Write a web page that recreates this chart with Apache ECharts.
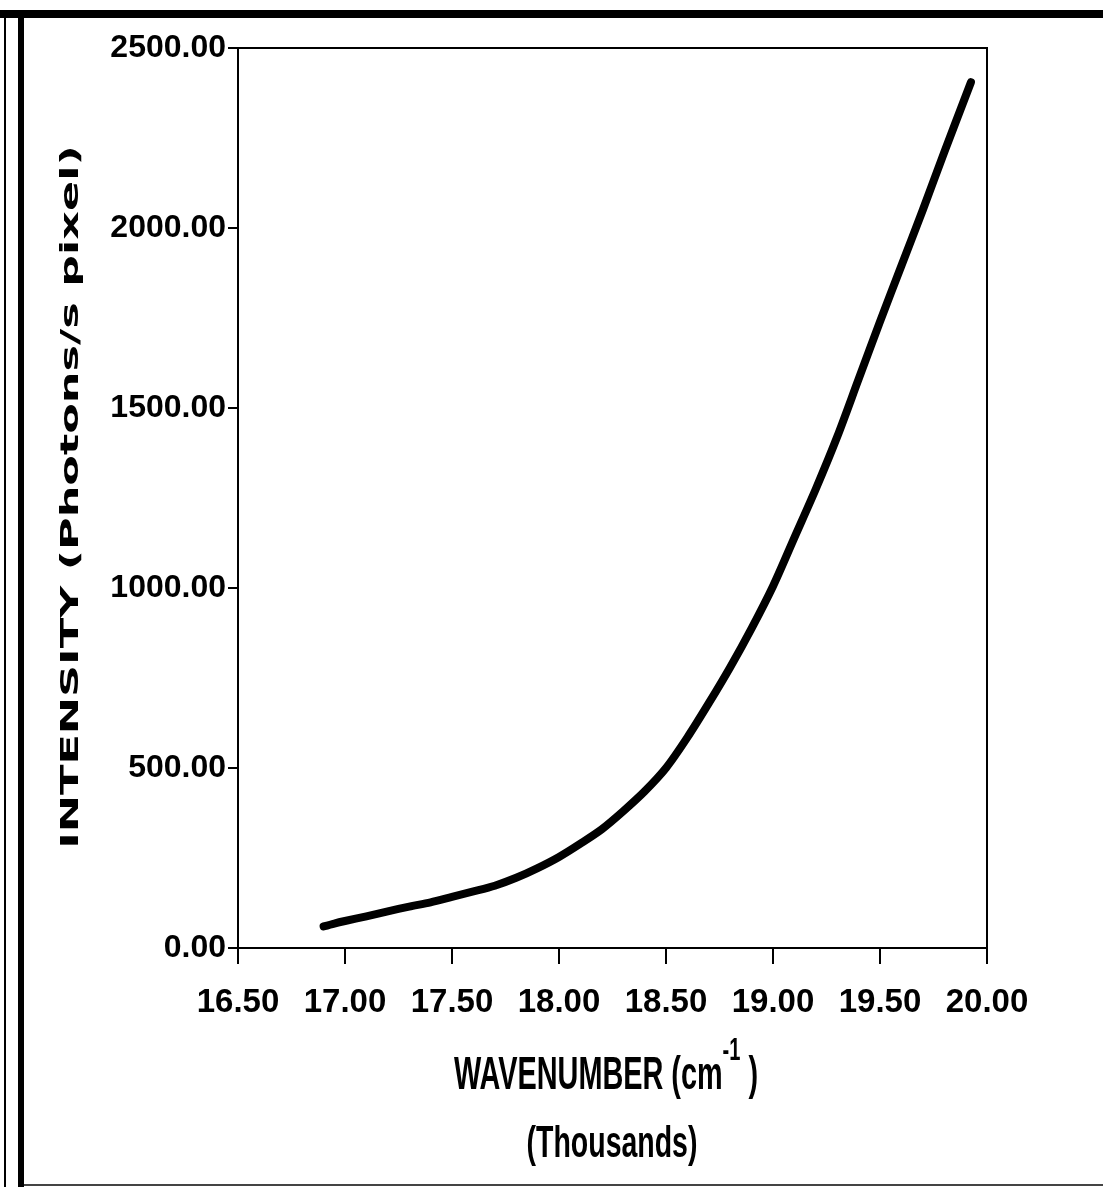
<!DOCTYPE html>
<html>
<head>
<meta charset="utf-8">
<script src="https://cdn.jsdelivr.net/npm/echarts@6/dist/echarts.min.js"></script>
<style>
html,body{margin:0;padding:0;background:#fff;}
#chart{width:1103px;height:1187px;}
</style>
</head>
<body>
<div id="chart"></div>
<script>
// Wavenumber (thousands of cm^-1)
var wavenumber = [16.90, 16.95, 17.00, 17.10, 17.20, 17.30, 17.40, 17.50, 17.60, 17.70, 17.80, 17.90,
                  18.00, 18.10, 18.20, 18.30, 18.40, 18.50, 18.60, 18.70, 18.80, 18.90,
                  19.00, 19.10, 19.20, 19.30, 19.40, 19.50, 19.60, 19.70, 19.80, 19.925];
// Intensity (photons/s pixel)
var intensity = [60, 68, 75, 88, 102, 115, 127, 142, 157, 173, 195, 222,
                 253, 290, 330, 380, 435, 500, 585, 680, 780, 888,
                 1005, 1140, 1275, 1420, 1580, 1740, 1895, 2050, 2210, 2405];
var xTicks = [16.5, 17.0, 17.5, 18.0, 18.5, 19.0, 19.5, 20.0];
var yTicks = [0, 500, 1000, 1500, 2000, 2500];
var xTitle = 'WAVENUMBER (cm{sup|-1} )';
var xSubTitle = '(Thousands)';
var yTitle = 'INTENSITY (Photons/s pixel)';

var points = wavenumber.map(function (x, i) { return [x, intensity[i]]; });
var labelFont = '"Liberation Sans", Arial, sans-serif';

var chart = echarts.init(document.getElementById('chart'), null, {renderer: 'canvas'});
chart.setOption({
  backgroundColor: '#ffffff',
  animation: false,
  grid: {
    left: 238, right: 116, top: 48, bottom: 239,
    show: true, borderColor: '#000', borderWidth: 2, backgroundColor: 'transparent'
  },
  xAxis: {
    type: 'value',
    min: xTicks[0], max: xTicks[xTicks.length - 1], interval: 0.5,
    axisLine: {show: true, onZero: false, lineStyle: {color: '#000', width: 2}},
    axisTick: {show: true, inside: false, length: 16, lineStyle: {color: '#000', width: 2}},
    splitLine: {show: false},
    axisLabel: {
      margin: 38, color: '#000', fontFamily: labelFont, fontWeight: 'bold', fontSize: 33,
      showMinLabel: true, showMaxLabel: true, hideOverlap: false,
      formatter: function (v) { return v.toFixed(2); }
    }
  },
  yAxis: {
    type: 'value',
    min: yTicks[0], max: yTicks[yTicks.length - 1], interval: 500,
    axisLine: {show: true, lineStyle: {color: '#000', width: 2}},
    axisTick: {show: true, inside: false, length: 10, lineStyle: {color: '#000', width: 2}},
    splitLine: {show: false},
    axisLabel: {
      margin: 12, color: '#000', fontFamily: labelFont, fontWeight: 'bold', fontSize: 32,
      showMinLabel: true, showMaxLabel: true, hideOverlap: false,
      formatter: function (v) { return v.toFixed(2); }
    }
  },
  series: [{
    type: 'line',
    data: points,
    showSymbol: false,
    smooth: 0.3,
    lineStyle: {color: '#000', width: 8, cap: 'round', join: 'round'}
  }],
  graphic: [
    {type: 'rect', shape: {x: 0, y: 10, width: 1103, height: 8}, style: {fill: '#000'}, silent: true},
    {type: 'rect', shape: {x: 4, y: 10, width: 2, height: 1177}, style: {fill: '#000'}, silent: true},
    {type: 'rect', shape: {x: 18, y: 10, width: 6, height: 1177}, style: {fill: '#000'}, silent: true},
    {type: 'rect', shape: {x: 24, y: 1184, width: 1079, height: 2}, style: {fill: '#444'}, silent: true},
    {
      type: 'text', x: 71, y: 497, rotation: Math.PI / 2, scaleX: 1.78, silent: true,
      style: {
        text: yTitle, fill: '#000', fontFamily: '"DejaVu Sans", sans-serif', fontWeight: 'bold', fontSize: 25,
        align: 'center', verticalAlign: 'middle'
      }
    },
    {
      type: 'text', x: 606, y: 1076, scaleX: 0.627, silent: true,
      style: {
        text: xTitle, fill: '#000', fontFamily: labelFont, fontWeight: 'bold', fontSize: 46,
        align: 'center', verticalAlign: 'middle',
        rich: {
          sup: {fill: '#000', fontFamily: labelFont, fontWeight: 'bold', fontSize: 32, padding: [0, 0, 50, 0]}
        }
      }
    },
    {
      type: 'text', x: 612, y: 1145, scaleX: 0.647, silent: true,
      style: {
        text: xSubTitle, fill: '#000', fontFamily: labelFont, fontWeight: 'bold', fontSize: 44,
        align: 'center', verticalAlign: 'middle'
      }
    }
  ]
});
</script>
</body>
</html>
